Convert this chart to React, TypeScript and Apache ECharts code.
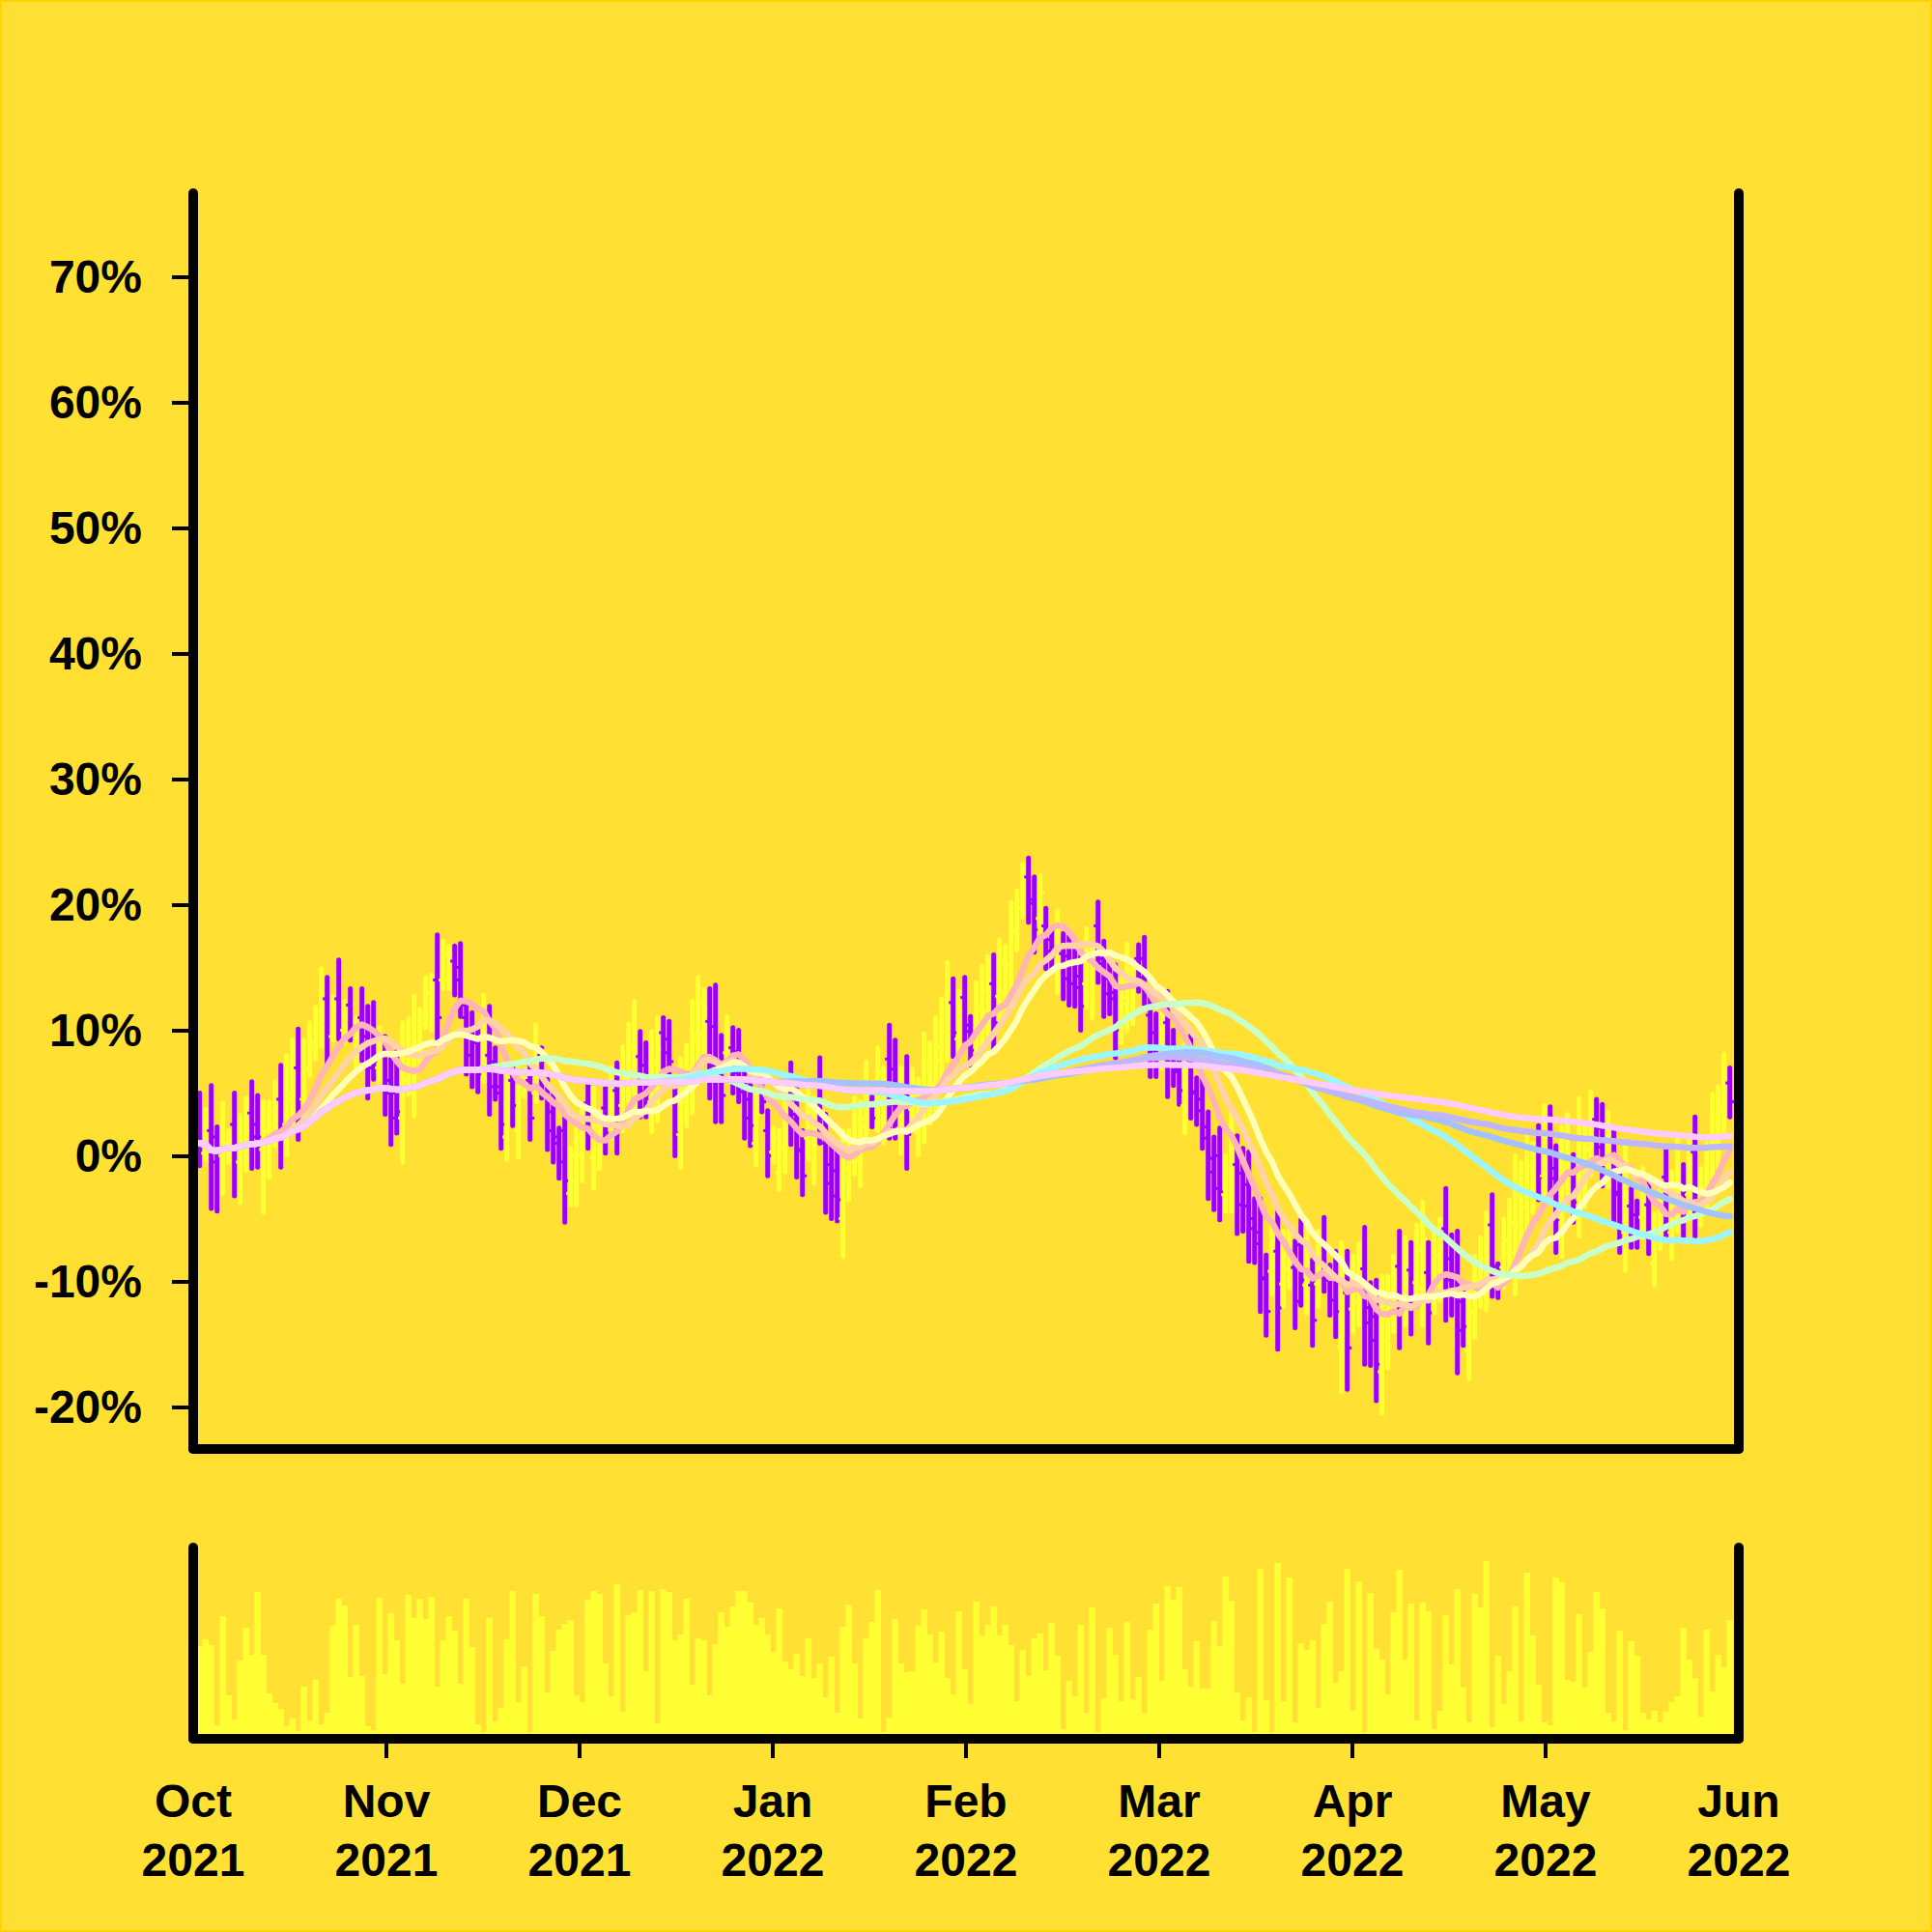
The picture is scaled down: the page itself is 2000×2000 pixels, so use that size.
import React, { useEffect, useRef } from "react";
import * as echarts from "echarts";

const monthLabels = ["Oct\n2021", "Nov\n2021", "Dec\n2021", "Jan\n2022", "Feb\n2022", "Mar\n2022", "Apr\n2022", "May\n2022", "Jun\n2022"];
const yTickValues = [-20, -10, 0, 10, 20, 30, 40, 50, 60, 70];

const highV = [
  5.0, 3.7, 5.6, 2.3, 4.2, 2.0, 5.0, 3.2, 4.6, 5.9,
  4.8, 4.3, 4.3, 5.9, 7.2, 8.0, 9.2, 10.1, 9.2, 10.6,
  11.8, 14.9, 14.2, 12.7, 15.6, 12.3, 13.3, 11.0, 13.3, 11.9,
  12.2, 10.2, 9.5, 8.3, 8.3, 10.6, 10.9, 12.7, 11.7, 14.2,
  14.4, 17.6, 17.1, 16.7, 16.7, 16.9, 12.3, 11.4, 10.2, 12.8,
  11.9, 8.6, 6.7, 6.7, 7.2, 6.9, 6.9, 7.3, 10.4, 8.6,
  6.1, 4.9, 2.2, 4.0, 0.6, 2.6, 4.1, 5.8, 5.4, 3.6,
  5.4, 7.0, 7.4, 8.7, 10.5, 12.3, 9.9, 9.0, 9.9, 11.0,
  11.0, 10.7, 6.0, 7.7, 8.8, 12.3, 14.2, 13.2, 13.3, 13.6,
  9.6, 11.1, 10.2, 10.0, 6.7, 6.1, 5.0, 6.1, 3.6, 2.2,
  2.0, 5.4, 7.4, 5.4, 2.0, 5.2, 4.6, 7.8, 3.3, 1.1,
  0.5, 2.0, 2.0, 4.6, 4.3, 7.5, 4.7, 8.6, 7.0, 10.4,
  9.2, 7.0, 7.9, 6.9, 6.1, 9.7, 9.0, 11.0, 12.5, 15.4,
  14.1, 13.1, 14.2, 11.1, 13.8, 15.1, 15.9, 16.0, 17.2, 16.7,
  20.2, 21.1, 23.2, 23.7, 22.2, 22.3, 19.7, 18.1, 19.5, 17.7,
  17.5, 16.9, 16.2, 18.1, 16.5, 20.2, 17.1, 15.3, 15.2, 14.2,
  16.9, 15.5, 16.8, 17.4, 13.3, 11.3, 12.0, 13.1, 10.0, 7.8,
  9.0, 9.6, 6.2, 6.2, 3.5, 1.5, 2.2, 0.0, 3.8, 1.6,
  0.6, 0.3, -3.4, -3.4, -7.9, -5.0, -4.3, -6.0, -5.5, -6.8,
  -5.1, -5.1, -8.3, -6.0, -4.9, -8.7, -7.6, -6.9, -7.6, -8.0,
  -7.0, -5.7, -10.1, -9.9, -9.6, -9.6, -8.0, -6.0, -6.5, -6.9,
  -5.5, -3.7, -6.9, -6.0, -5.0, -2.6, -6.3, -6.0, -10.1, -10.1,
  -8.0, -6.5, -4.5, -3.1, -8.6, -5.0, -3.5, 0.0, -0.5, 1.5,
  1.0, 2.4, 4.0, 3.9, 0.8, 2.3, 3.3, 0.1, 4.6, 2.4,
  5.1, 4.5, 4.1, 3.5, 2.2, -0.8, 0.8, -2.6, -3.6, -1.0,
  -2.2, -4.6, -2.3, 0.5, -1.3, 1.4, -0.7, 1.2, 3.1, -1.0,
  1.0, 4.9, 5.5, 8.1, 7.0,
];

const lowV = [
  -0.8, -0.3, -4.2, -4.4, -3.0, -0.5, -3.2, -3.7, -1.2, -1.0,
  -0.9, -4.5, -1.7, 0.8, -0.9, 0.1, 2.0, 1.3, 2.7, 6.4,
  7.7, 8.7, 7.4, 9.2, 9.3, 9.0, 9.2, 6.9, 7.6, 4.6,
  6.1, 5.9, 3.3, 0.9, 1.8, -0.5, 4.9, 3.2, 7.2, 10.2,
  10.0, 8.8, 13.3, 13.3, 12.8, 11.1, 6.5, 5.5, 5.1, 5.9,
  3.3, 4.5, 0.6, -0.3, 2.4, -0.1, 4.7, 1.3, 4.3, 4.6,
  0.5, -0.5, -1.8, -5.3, -3.9, -3.9, -2.0, 0.6, -2.6, -1.0,
  0.2, 1.4, 0.2, 2.0, 4.3, 3.8, 3.1, 3.1, 1.9, 2.8,
  7.0, 6.1, 0.0, -0.9, 2.4, 3.4, 7.2, 8.2, 4.6, 2.7,
  2.7, 6.9, 5.0, 4.3, 1.4, 0.8, -0.7, 3.5, -1.6, -0.5,
  -2.7, -1.3, 0.9, -1.7, -3.1, -0.3, -2.2, 1.0, -4.5, -5.0,
  -5.2, -8.0, -3.5, -1.5, -2.4, 0.9, 2.3, 2.0, 1.0, 1.4,
  1.4, 0.2, -1.0, 2.3, 0.1, 1.1, 2.6, 3.4, 5.5, 7.6,
  7.9, 7.7, 8.7, 7.2, 7.2, 8.7, 9.6, 8.3, 10.8, 11.3,
  13.0, 16.4, 19.0, 18.6, 16.2, 17.5, 14.9, 15.0, 13.0, 12.5,
  12.0, 11.9, 10.0, 11.8, 11.0, 13.8, 11.1, 11.3, 7.8, 9.0,
  10.0, 10.5, 13.1, 11.8, 6.3, 6.3, 7.0, 4.7, 5.6, 4.1,
  1.8, 3.0, 2.5, 0.6, -3.4, -4.3, -5.1, -4.4, -4.4, -6.2,
  -6.0, -8.4, -8.5, -12.4, -14.3, -11.0, -15.4, -12.0, -10.5, -13.7,
  -11.9, -12.5, -15.1, -12.0, -10.8, -12.7, -14.4, -18.8, -18.6, -14.0,
  -13.5, -16.6, -16.7, -19.5, -20.5, -16.9, -14.0, -15.3, -13.5, -14.2,
  -12.0, -13.5, -14.9, -12.5, -11.5, -13.1, -12.7, -17.3, -15.1, -17.8,
  -14.5, -12.0, -12.3, -11.2, -11.3, -10.5, -9.5, -11.0, -7.5, -6.5,
  -4.5, -3.5, -4.0, -3.1, -7.7, -8.0, -3.0, -5.3, -6.4, -4.0,
  -1.5, -1.0, -2.4, -2.5, -5.4, -7.7, -9.1, -7.3, -7.3, -6.5,
  -7.8, -10.3, -7.4, -6.7, -8.2, -6.0, -6.7, -5.0, -6.4, -5.5,
  -4.0, -2.0, -1.0, 2.0, 3.1,
];

const openV = [
  3.0, 0.2, 2.0, 1.5, 0.0, 0.3, 2.5, -0.5, 0.8, 3.4,
  2.5, 0.5, 1.0, 2.0, 4.5, 2.5, 4.5, 7.0, 4.5, 7.0,
  8.5, 10.0, 12.5, 9.5, 12.5, 10.0, 12.0, 8.0, 11.0, 9.5,
  9.0, 7.0, 8.0, 6.0, 5.0, 3.0, 6.0, 5.0, 8.0, 11.0,
  11.0, 14.0, 14.0, 14.0, 15.5, 15.0, 11.0, 10.0, 9.0, 7.0,
  8.0, 7.5, 5.0, 1.5, 6.0, 2.0, 5.0, 6.0, 5.0, 8.0,
  5.0, 3.5, 1.5, 2.0, -3.0, -2.0, 0.0, 4.2, -0.2, 0.4,
  3.8, 3.1, 5.2, 4.0, 6.2, 6.4, 7.9, 7.2, 4.3, 5.3,
  9.8, 9.3, 4.2, 1.7, 4.3, 6.1, 9.3, 9.7, 10.7, 10.3,
  7.5, 8.2, 8.6, 8.3, 5.1, 4.5, 1.0, 5.3, 2.0, 0.3,
  -1.3, 0.7, 5.4, 3.3, 0.5, 1.4, -0.2, 5.8, 1.0, -0.7,
  -1.2, -5.0, -1.9, 0.3, -0.4, 2.9, 4.0, 4.0, 2.8, 7.7,
  6.9, 2.2, 5.2, 3.7, 1.9, 3.7, 4.5, 5.7, 7.6, 9.9,
  12.2, 9.3, 12.6, 9.9, 9.2, 10.6, 11.5, 13.7, 12.7, 12.9,
  15.2, 17.8, 20.3, 22.2, 20.4, 18.9, 18.3, 17.2, 15.0, 16.1,
  15.9, 15.4, 14.3, 13.7, 12.7, 18.3, 15.3, 14.1, 13.0, 10.6,
  12.1, 12.0, 15.7, 15.7, 11.2, 9.8, 8.5, 10.6, 8.7, 6.7,
  4.0, 7.6, 5.1, 4.5, 1.4, -0.2, 0.0, -3.1, -1.9, -0.7,
  -1.4, -2.3, -5.0, -6.1, -9.8, -9.2, -7.6, -10.2, -9.0, -8.9,
  -7.1, -10.3, -10.3, -10.2, -6.7, -9.9, -9.6, -15.2, -10.9, -12.2,
  -11.6, -9.0, -12.1, -12.8, -17.2, -14.7, -12.2, -8.8, -11.4, -9.1,
  -10.1, -10.6, -9.3, -10.6, -9.6, -5.8, -8.2, -9.4, -11.6, -15.5,
  -12.6, -10.4, -10.0, -5.5, -9.4, -8.9, -7.7, -7.7, -5.4, -4.1,
  -2.9, 0.6, -1.6, 1.8, -1.8, -4.9, -1.1, -1.5, -3.1, -2.1,
  0.5, 2.9, 2.2, -0.7, -0.1, -2.9, -6.1, -4.0, -4.7, -4.9,
  -3.9, -8.6, -5.9, -1.7, -6.1, -3.8, -2.5, -3.1, 0.3, -4.2,
  -2.5, 0.1, 1.0, 3.8, 5.8,
];

const closeV = [
  1.0, 0.8, -0.5, 0.3, 1.0, 1.2, 0.5, 1.5, 2.0, 1.5,
  1.5, 2.0, 2.5, 4.0, 2.5, 5.0, 6.5, 4.5, 7.0, 9.0,
  10.5, 13.0, 9.5, 12.0, 10.0, 11.5, 10.0, 10.0, 9.0, 7.0,
  7.5, 9.0, 5.0, 3.0, 3.5, 6.0, 8.5, 9.0, 10.5, 13.0,
  13.5, 11.0, 16.0, 16.0, 14.0, 12.0, 8.0, 7.0, 6.5, 11.0,
  5.5, 5.5, 2.5, 4.5, 4.0, 5.0, 6.0, 3.0, 8.5, 6.0,
  2.0, 1.0, -0.5, -2.0, 0.0, 1.5, 3.0, 2.2, 3.0, 2.2,
  1.8, 5.3, 2.4, 6.7, 8.6, 9.8, 5.1, 4.9, 7.5, 8.5,
  8.2, 7.5, 1.8, 5.1, 6.9, 9.6, 12.1, 11.7, 7.2, 6.0,
  4.8, 9.8, 6.6, 6.0, 3.0, 2.4, 3.3, 4.3, 0.0, 1.4,
  0.6, 3.4, 2.9, 0.4, -1.6, 3.6, 2.6, 3.0, -2.2, -3.2,
  -3.5, -1.0, 0.4, 2.8, 2.3, 5.5, 3.0, 6.6, 5.2, 4.1,
  3.7, 5.0, 1.7, 5.5, 4.3, 7.1, 7.1, 8.7, 10.4, 13.1,
  9.8, 11.5, 10.4, 8.4, 11.8, 13.2, 14.0, 10.6, 15.3, 15.1,
  18.0, 19.7, 21.9, 20.1, 18.0, 20.9, 16.3, 15.9, 17.6, 14.1,
  13.7, 13.4, 11.9, 16.2, 14.9, 15.7, 12.9, 12.5, 10.0, 12.6,
  14.8, 14.0, 14.2, 13.5, 8.4, 7.8, 10.5, 7.2, 6.9, 5.2,
  6.8, 5.0, 3.6, 2.3, -1.3, -2.6, -2.9, -1.3, 1.3, -3.9,
  -4.0, -5.8, -7.0, -9.7, -12.4, -6.8, -12.1, -7.8, -7.0, -11.6,
  -9.9, -7.3, -13.1, -7.8, -9.0, -11.5, -12.4, -10.5, -15.3, -9.8,
  -9.0, -13.3, -14.7, -16.6, -12.9, -11.8, -9.8, -12.5, -8.6, -12.0,
  -7.5, -6.6, -12.5, -8.0, -7.0, -9.9, -10.8, -13.9, -13.6, -12.4,
  -10.0, -8.2, -6.8, -8.8, -10.5, -6.7, -5.3, -3.3, -2.6, -0.9,
  -0.7, -1.7, 1.6, -1.0, -5.1, -0.8, 1.4, -3.7, 1.3, 0.5,
  3.1, 0.7, -0.5, 1.7, -3.1, -5.6, -2.2, -5.9, -6.2, -2.7,
  -6.1, -6.3, -3.8, -4.5, -3.4, -0.8, -4.9, -0.7, -3.6, -2.4,
  -0.5, 2.8, 3.6, 6.3, 4.3,
];

const volumeV = [
  96, 103, 97, 14, 127, 45, 20, 81, 115, 87,
  152, 87, 47, 37, 31, 13, 21, 8, 54, 19,
  61, 15, 27, 117, 145, 138, 64, 118, 65, 13,
  9, 146, 67, 130, 102, 57, 149, 125, 145, 124,
  147, 54, 102, 127, 112, 57, 145, 95, 15, 7,
  125, 18, 32, 103, 153, 38, 75, 7, 150, 127,
  48, 91, 113, 119, 123, 45, 38, 144, 153, 150,
  78, 44, 160, 28, 128, 131, 154, 70, 153, 16,
  155, 152, 102, 108, 145, 56, 104, 102, 45, 98,
  131, 116, 137, 153, 153, 141, 118, 125, 108, 90,
  135, 80, 72, 88, 65, 104, 63, 78, 43, 85,
  27, 116, 139, 78, 21, 104, 121, 154, 7, 22,
  124, 78, 69, 70, 117, 134, 108, 79, 111, 63,
  46, 132, 72, 36, 142, 107, 118, 137, 107, 118,
  97, 39, 92, 65, 104, 109, 71, 120, 86, 10,
  60, 44, 118, 27, 136, 7, 42, 115, 87, 39,
  121, 41, 64, 27, 113, 140, 60, 158, 144, 157,
  72, 54, 101, 52, 52, 122, 96, 168, 143, 48,
  19, 43, 7, 176, 40, 7, 182, 39, 167, 17,
  99, 92, 102, 32, 119, 142, 58, 70, 176, 29,
  163, 7, 151, 93, 82, 46, 131, 175, 82, 140,
  19, 141, 132, 10, 29, 128, 77, 155, 53, 17,
  150, 136, 184, 12, 86, 36, 70, 137, 18, 172,
  107, 56, 17, 14, 167, 162, 61, 59, 129, 53,
  90, 152, 135, 27, 18, 112, 9, 101, 86, 27,
  20, 29, 17, 28, 38, 44, 115, 82, 63, 23,
  113, 49, 87, 74, 123,
];

const maWindows = [10, 15, 20, 50, 80, 100, 150, 200];
const maColors = ["#FFB5B5", "#FFD2A8", "#FFFFB8", "#C9FFC9", "#9DF5FF", "#A4C2FF", "#BFB6FF", "#FFCCFF"];

const BAR_OFFSET = 1.1167;
const BARS_PER_MONTH = 33.3333;

function movingAverage(values: number[], n: number): number[] {
  return values.map((_, i) => {
    const s = Math.max(0, i - n + 1);
    let sum = 0;
    for (let j = s; j <= i; j++) sum += values[j];
    return sum / (i - s + 1);
  });
}

export default function App() {
  const ref = useRef<HTMLDivElement>(null);
  useEffect(() => {
    document.body.style.margin = "0";
    const chart = echarts.init(ref.current as HTMLDivElement, null, { renderer: "svg" });
    const xOf = (k: number) => (k + BAR_OFFSET) / BARS_PER_MONTH;
    const ohlc = closeV.map((c, k) => [xOf(k), openV[k], c, lowV[k], highV[k], c >= openV[k] ? 1 : 0]);
    const vol = volumeV.map((v, k) => [xOf(k), v]);
    const axisLineStyle = { color: "#000000", width: 10, cap: "round" };
    const font = "Liberation Sans, Arial, Helvetica, sans-serif";

    const maSeries = maWindows.map((w, i) => ({
      type: "line",
      xAxisIndex: 0,
      yAxisIndex: 0,
      data: movingAverage(closeV, w).map((v, k) => [xOf(k), v]),
      showSymbol: false,
      symbol: "none",
      lineStyle: { width: 6.5, color: maColors[i], cap: "round", join: "round" },
      z: 3 + i * 0.01,
      silent: true,
    }));

    const option: any = {
      animation: false,
      backgroundColor: "#FFE033",
      textStyle: { fontFamily: font },
      graphic: [
        {
          type: "rect",
          shape: { x: 1, y: 1, width: 1998, height: 1998 },
          style: { fill: "none", stroke: "#FFD400", lineWidth: 2 },
          silent: true,
        },
      ],
      grid: [
        { left: 200, right: 200, top: 200, bottom: 500 },
        { left: 200, right: 200, top: 1602, bottom: 200 },
      ],
      xAxis: [
        {
          type: "value", gridIndex: 0, min: 0, max: 8, interval: 1,
          axisLine: { show: true, onZero: false, lineStyle: axisLineStyle },
          axisTick: { show: false }, axisLabel: { show: false }, splitLine: { show: false }, z: 10,
        },
        {
          type: "value", gridIndex: 1, min: 0, max: 8, interval: 1,
          axisLine: { show: true, onZero: false, lineStyle: axisLineStyle },
          axisTick: { show: true, customValues: [1, 2, 3, 4, 5, 6, 7], length: 20, lineStyle: { width: 4, color: "#000000" } },
          axisLabel: {
            show: true, formatter: (v: number) => monthLabels[Math.round(v)],
            fontSize: 48, fontWeight: "bold", lineHeight: 61, margin: 34, color: "#000000",
            fontFamily: font, showMinLabel: true, showMaxLabel: true, hideOverlap: false,
          },
          splitLine: { show: false }, z: 10,
        },
      ],
      yAxis: [
        {
          type: "value", gridIndex: 0, min: -23.35, max: 76.65,
          axisLine: { show: true, onZero: false, lineStyle: axisLineStyle },
          axisTick: { show: true, customValues: yTickValues, length: 22, lineStyle: { width: 4, color: "#000000" } },
          axisLabel: {
            show: true, customValues: yTickValues, formatter: (v: number) => `${Math.round(v)}%`,
            fontSize: 48, fontWeight: "bold", margin: 53, color: "#000000", fontFamily: font,
          },
          splitLine: { show: false }, z: 10,
        },
        {
          type: "value", gridIndex: 0, position: "right", min: -23.35, max: 76.65,
          axisLine: { show: true, onZero: false, lineStyle: axisLineStyle },
          axisTick: { show: false }, axisLabel: { show: false }, splitLine: { show: false }, z: 10,
        },
        {
          type: "value", gridIndex: 1, min: 0, max: 198,
          axisLine: { show: true, onZero: false, lineStyle: axisLineStyle },
          axisTick: { show: false }, axisLabel: { show: false }, splitLine: { show: false }, z: 10,
        },
        {
          type: "value", gridIndex: 1, position: "right", min: 0, max: 198,
          axisLine: { show: true, onZero: false, lineStyle: axisLineStyle },
          axisTick: { show: false }, axisLabel: { show: false }, splitLine: { show: false }, z: 10,
        },
      ],
      series: [
        {
          type: "custom",
          xAxisIndex: 0,
          yAxisIndex: 0,
          data: ohlc,
          encode: { x: 0, y: [1, 2, 3, 4] },
          z: 2,
          silent: true,
          renderItem: (params: any, api: any) => {
            const x = api.value(0);
            const pH = api.coord([x, api.value(4)]);
            const pL = api.coord([x, api.value(3)]);
            const pO = api.coord([x, api.value(1)]);
            const pC = api.coord([x, api.value(2)]);
            const color = api.value(5) ? "#FFFF33" : "#9900FF";
            return {
              type: "group",
              children: [
                { type: "line", shape: { x1: pH[0], y1: pH[1], x2: pL[0], y2: pL[1] }, style: { stroke: color, lineWidth: 5, lineCap: "round" } },
                { type: "line", shape: { x1: pO[0] - 4.5, y1: pO[1], x2: pO[0], y2: pO[1] }, style: { stroke: color, lineWidth: 3 } },
                { type: "line", shape: { x1: pC[0], y1: pC[1], x2: pC[0] + 4.5, y2: pC[1] }, style: { stroke: color, lineWidth: 3 } },
              ],
            };
          },
        },
        ...maSeries,
        {
          type: "bar",
          xAxisIndex: 1,
          yAxisIndex: 2,
          data: vol,
          barWidth: 6.6,
          itemStyle: { color: "#FFFF33" },
          silent: true,
          z: 2,
        },
      ],
    };
    chart.setOption(option);
    return () => chart.dispose();
  }, []);
  return <div ref={ref} style={{ width: 2000, height: 2000 }} />;
}
